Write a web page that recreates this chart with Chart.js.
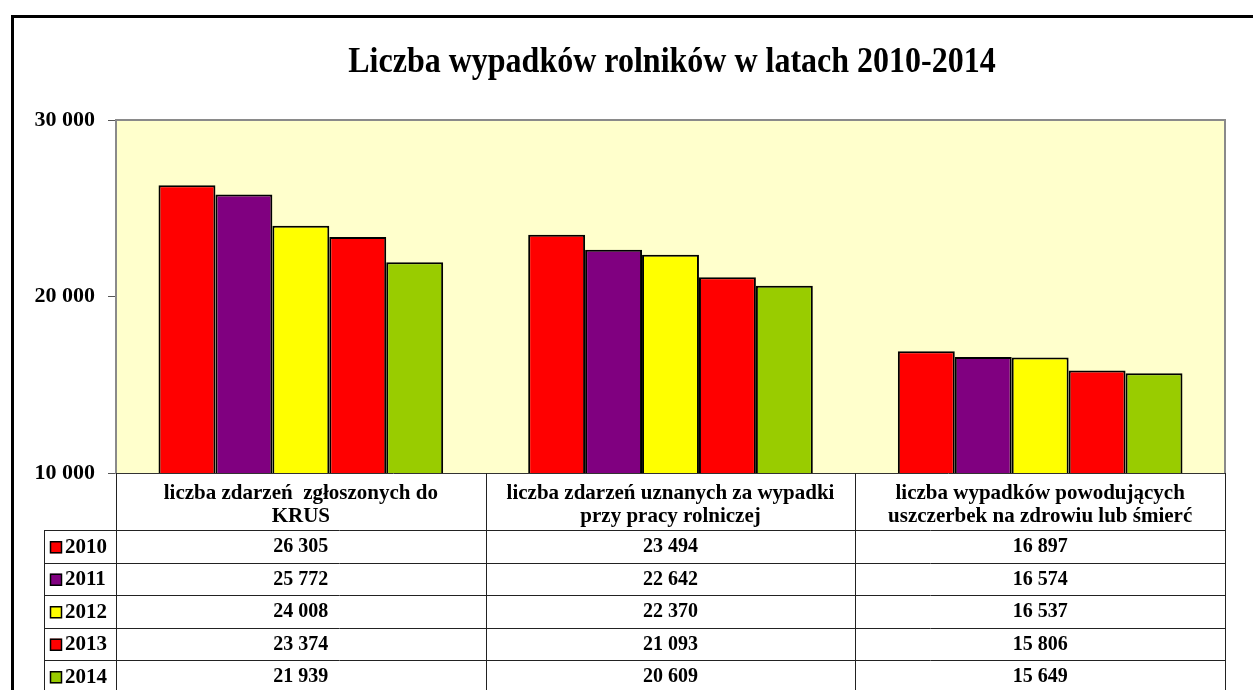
<!DOCTYPE html>
<html>
<head>
<meta charset="utf-8">
<script src="https://cdn.jsdelivr.net/npm/chart.js@4"></script>
<style>
  html, body { margin: 0; padding: 0; background: #fff; }
  #wrap { width: 1253px; height: 690px; }
</style>
</head>
<body>
<div id="wrap"><canvas id="chart" width="1253" height="690"></canvas></div>
<script>
// dane z wykresu
const chartTitle = "Liczba wypadków rolników w latach 2010-2014";
const categories = [
    ["liczba zdarzeń  zgłoszonych do", "KRUS"],
    ["liczba zdarzeń uznanych za wypadki", "przy pracy rolniczej"],
    ["liczba wypadków powodujących", "uszczerbek na zdrowiu lub śmierć"]
];
const years = ["2010", "2011", "2012", "2013", "2014"];
const values2010 = [26305, 23494, 16897];
const values2011 = [25772, 22642, 16574];
const values2012 = [24008, 22370, 16537];
const values2013 = [23374, 21093, 15806];
const values2014 = [21939, 20609, 15649];
const yTicks = [10000, 20000, 30000];

const seriesValues = [values2010, values2011, values2012, values2013, values2014];
const yearColors = ["#FF0000", "#800080", "#FFFF00", "#FF0000", "#99CC00"];
const serif = "'Liberation Serif', 'Times New Roman', serif";

// liczby ze spacją jako separatorem tysięcy
function fmt(v) {
    return String(v).replace(/\B(?=(\d{3})+(?!\d))/g, " ");
}

// tło obszaru wykresu, ramka i tytuł
const plotBg = {
    id: "plotBg",
    beforeDraw(chart) {
        const ctx = chart.ctx;
        const a = chart.chartArea;
        ctx.save();
        ctx.fillStyle = "#FFFFCC";
        ctx.fillRect(a.left, a.top, a.right - a.left, a.bottom - a.top);
        // zewnętrzna ramka
        ctx.strokeStyle = "#000";
        ctx.lineWidth = 3;
        ctx.strokeRect(12.5, 16.5, 1400, 900);
        // tytuł (lekko rozciągnięty w pionie jak w oryginale)
        ctx.translate(672, 62);
        ctx.scale(1, 1.15);
        ctx.fillStyle = "#000";
        ctx.font = "bold 32px " + serif;
        ctx.textAlign = "center";
        ctx.textBaseline = "middle";
        ctx.fillText(chartTitle, 0, 0);
        ctx.restore();
    },
    afterDatasetsDraw(chart) {
        const ctx = chart.ctx;
        const a = chart.chartArea;
        ctx.save();
        ctx.strokeStyle = "#8a8a8a";
        ctx.lineWidth = 2;
        ctx.beginPath();
        ctx.moveTo(a.left, a.top);
        ctx.lineTo(a.right, a.top);
        ctx.lineTo(a.right, a.bottom);
        ctx.stroke();
        ctx.restore();
    }
};

// tabela danych pod osią X
const dataTable = {
    id: "dataTable",
    afterDraw(chart) {
        const ctx = chart.ctx;
        const a = chart.chartArea;
        const x = chart.scales.x;
        const catW = (a.right - a.left) / categories.length;
        const headBottom = 530;
        const rowH = 32.5;
        const legendLeft = 44;
        const bottom = 700;

        ctx.save();
        ctx.strokeStyle = "#222";
        ctx.lineWidth = 1;
        ctx.beginPath();
        // pionowe linie
        for (let i = 0; i <= categories.length; i++) {
            const px = Math.round(a.left + i * catW) + 0.5;
            ctx.moveTo(px, a.bottom);
            ctx.lineTo(px, bottom);
        }
        ctx.moveTo(legendLeft + 0.5, headBottom);
        ctx.lineTo(legendLeft + 0.5, bottom);
        // poziome linie
        for (let r = 0; r < years.length; r++) {
            const py = Math.round(headBottom + r * rowH) + 0.5;
            ctx.moveTo(legendLeft, py);
            ctx.lineTo(Math.round(a.right) + 1, py);
        }
        ctx.stroke();

        ctx.textBaseline = "middle";
        years.forEach((year, r) => {
            const cy = headBottom + r * rowH + rowH / 2 + 1;
            // klucz legendy
            ctx.fillStyle = yearColors[r];
            ctx.fillRect(50, cy - 6, 12, 12);
            ctx.strokeStyle = "#000";
            ctx.lineWidth = 1.5;
            ctx.strokeRect(50.5, cy - 5.5, 11, 11);
            ctx.fillStyle = "#000";
            ctx.textAlign = "left";
            ctx.font = "bold 21px " + serif;
            ctx.fillText(year, 65, cy);
            ctx.textAlign = "center";
            ctx.font = "bold 20px " + serif;
            seriesValues[r].forEach((v, i) => {
                ctx.fillText(fmt(v), x.getPixelForValue(i), cy);
            });
        });
        ctx.restore();
    }
};

const datasets = years.map((year, i) => ({
    label: year,
    data: seriesValues[i],
    backgroundColor: yearColors[i],
    borderColor: "#000",
    borderWidth: 2,
    borderSkipped: "start",
    barPercentage: 1.0,
    categoryPercentage: 0.77
}));

new Chart(document.getElementById("chart"), {
    type: "bar",
    data: { labels: categories, datasets: datasets },
    options: {
        responsive: false,
        animation: false,
        layout: { padding: { left: 0, right: 28, top: 120, bottom: 0 } },
        plugins: {
            legend: { display: false },
            tooltip: { enabled: false },
            title: { display: false }
        },
        scales: {
            x: {
                position: "bottom",
                grid: { drawOnChartArea: false, drawTicks: false },
                border: { color: "#333", width: 1 },
                ticks: {
                    color: "#000",
                    padding: 9,
                    font: { family: serif, size: 21, weight: "bold", lineHeight: 1.1 }
                },
                afterFit(scale) { scale.height = 217; }
            },
            y: {
                min: 10000,
                max: 30000,
                afterBuildTicks(scale) {
                    scale.ticks = yTicks.map(v => ({ value: v }));
                },
                grid: { drawOnChartArea: false, drawTicks: true, tickLength: 8, color: "#555" },
                border: { color: "#8a8a8a", width: 2 },
                ticks: {
                    color: "#000",
                    padding: 13,
                    font: { family: serif, size: 22, weight: "bold" },
                    callback: v => fmt(v)
                },
                afterFit(scale) { scale.width = 116; }
            }
        }
    },
    plugins: [plotBg, dataTable]
});
</script>
</body>
</html>
